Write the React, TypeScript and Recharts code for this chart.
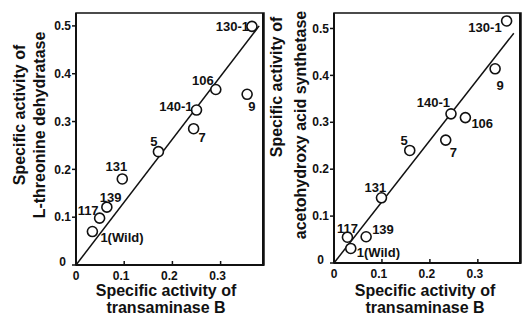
import { ScatterChart, Scatter, XAxis, YAxis, ReferenceLine, ReferenceArea, CartesianGrid } from "recharts";

// strain labels, same order in both panels
const STRAINS = ["1(Wild)", "117", "139", "131", "5", "7", "140-1", "106", "9", "130-1"];

// left panel: transaminase B vs L-threonine dehydratase
const TRANS_LEFT = [0.034, 0.049, 0.064, 0.096, 0.171, 0.244, 0.25, 0.29, 0.355, 0.365];
const DEHYDRATASE = [0.07, 0.098, 0.121, 0.18, 0.237, 0.285, 0.324, 0.367, 0.357, 0.499];

// right panel: transaminase B vs acetohydroxy acid synthetase
const TRANS_RIGHT = [0.035, 0.028, 0.067, 0.099, 0.158, 0.233, 0.244, 0.274, 0.336, 0.36];
const SYNTHETASE = [0.031, 0.055, 0.056, 0.139, 0.24, 0.262, 0.318, 0.31, 0.414, 0.516];

const X_TICKS = [0, 0.1, 0.2, 0.3];
const Y_TICKS = [0, 0.1, 0.2, 0.3, 0.4, 0.5];

// fitted lines (end points, data units)
const LINE_LEFT = [{ x: 0, y: 0 }, { x: 0.38, y: 0.5 }];
const LINE_RIGHT = [{ x: 0, y: 0 }, { x: 0.375, y: 0.49 }];

// label placement relative to each circle: dx, dy, anchor
const LABELS_LEFT: [number, number, string][] = [
  [8, 6, "start"], [-1, -8, "end"], [-7, -10, "start"], [-6, -12, "middle"], [-1, -10, "end"],
  [5, 9, "start"], [-4, -4, "end"], [-2, -9, "end"], [1, 12, "start"], [-3, 0, "end"],
];
const LABELS_RIGHT: [number, number, string][] = [
  [6, 4, "start"], [0, -9, "middle"], [6, -7, "start"], [-6, -10, "middle"], [-2, -10, "end"],
  [4, 12, "start"], [-1, -11, "end"], [6, 6, "start"], [5, 17, "middle"], [-5, 6, "end"],
];

const FONT = "'Liberation Sans', Arial, sans-serif";
const INK = "#111";

const fmt = (v: number) => (v === 0 ? "0" : v.toFixed(1));

const makeShape = (labels: [number, number, string][]) => (props: any) => {
  const { cx, cy, payload } = props;
  const [dx, dy, anchor] = labels[payload.i];
  return (
    <g>
      <circle cx={cx} cy={cy} r={5} fill="#fff" stroke={INK} strokeWidth={1.6} />
      <text x={cx + dx} y={cy + dy} dy="0.35em" textAnchor={anchor as any}
        fontFamily={FONT} fontWeight="bold" fontSize={13} fill={INK}>
        {payload.name}
      </text>
    </g>
  );
};

const XTick = (props: any) => {
  const { x, y, payload } = props;
  return (
    <g>
      {payload.value !== 0 && <line x1={x} x2={x} y1={y} y2={y - 4} stroke={INK} strokeWidth={1.5} />}
      <text x={x - (payload.value === 0 ? 0 : 3)} y={y + 15} textAnchor="middle"
        fontFamily={FONT} fontWeight="bold" fontSize={12} fill={INK}>
        {fmt(payload.value)}
      </text>
    </g>
  );
};

const YTick = (props: any) => {
  const { x, y, payload } = props;
  const zero = payload.value === 0;
  return (
    <text x={zero ? x - 5 : x} y={zero ? y - 3 : y} dy="0.35em" textAnchor="end"
      fontFamily={FONT} fontWeight="bold" fontSize={12} fill={INK}>
      {fmt(payload.value)}
    </text>
  );
};

const titleStyle = { fontFamily: FONT, fontWeight: "bold" as const, fontSize: 16, fill: INK };

interface PanelProps {
  left: number;
  width: number;
  yAxisWidth: number;
  margin: { top: number; right: number; bottom: number; left: number };
  xs: number[];
  ys: number[];
  labels: [number, number, string][];
  line: { x: number; y: number }[];
  xMax: number;
  yMax: number;
  xTitleX: number;
  yTitle: string;
  yTitle1: [number, number];
  yTitle2: [number, number];
}

function Panel(p: PanelProps) {
  const data = STRAINS.map((name, i) => ({ name, i, x: p.xs[i], y: p.ys[i] }));
  return (
    <div style={{ position: "absolute", left: p.left, top: 0, width: p.width, height: 316 }}>
      <ScatterChart width={p.width} height={316} margin={p.margin}>
        {/* right edge of the frame, placed from the plot offset */}
        <CartesianGrid horizontal={false} stroke={INK} strokeWidth={2} strokeOpacity={1}
          verticalCoordinatesGenerator={({ offset }: any) => [offset.left + offset.width - 1]} />
        <XAxis type="number" dataKey="x" domain={[0, p.xMax]} ticks={X_TICKS} height={30}
          axisLine={{ stroke: INK, strokeWidth: 2 }} tickLine={false} tickSize={0} tickMargin={0}
          tick={<XTick />} interval={0} allowDataOverflow
          label={{
            content: () => (
              <g>
                <text x={p.xTitleX} y={296} textAnchor="middle" {...titleStyle}>Specific activity of</text>
                <text x={p.xTitleX} y={313} textAnchor="middle" {...titleStyle}>transaminase B</text>
              </g>
            ),
          }}
        />
        <YAxis type="number" dataKey="y" domain={[0, p.yMax]} ticks={Y_TICKS} width={p.yAxisWidth}
          axisLine={{ stroke: INK, strokeWidth: 2 }} tickLine={{ stroke: INK, strokeWidth: 1.5 }}
          tickSize={4} tickMargin={1} tick={<YTick />} interval={0} allowDataOverflow
          label={{
            content: () => (
              <g>
                <text transform={`translate(${p.yTitle1[0]},${p.yTitle1[1]}) rotate(-90)`}
                  textAnchor="middle" dy="0.35em" {...titleStyle}>Specific activity of</text>
                <text transform={`translate(${p.yTitle2[0]},${p.yTitle2[1]}) rotate(-90)`}
                  textAnchor="middle" dy="0.35em" {...titleStyle}>{p.yTitle}</text>
              </g>
            ),
          }}
        />
        {/* plot frame */}
        <ReferenceArea x1={0} x2={p.xMax} y1={0} y2={p.yMax} fill="none" fillOpacity={0}
          stroke={INK} strokeWidth={1.5} ifOverflow="visible" />
        <ReferenceLine segment={p.line} stroke={INK} strokeWidth={1.5} ifOverflow="visible" />
        <Scatter data={data} shape={makeShape(p.labels)} isAnimationActive={false} />
      </ScatterChart>
    </div>
  );
}

export default function App() {
  return (
    <div style={{ position: "absolute", left: 0, top: 0, width: 523, height: 316, background: "#fff", overflow: "hidden" }}>
      <Panel left={266} width={257} yAxisWidth={68}
        margin={{ top: 13, right: 2, bottom: 23, left: 0 }}
        xs={TRANS_RIGHT} ys={SYNTHETASE} labels={LABELS_RIGHT} line={LINE_RIGHT}
        xMax={0.39} yMax={0.533} xTitleX={159}
        yTitle="acetohydroxy acid synthetase" yTitle1={[10, 87]} yTitle2={[34, 125]} />
      <Panel left={0} width={266} yAxisWidth={76}
        margin={{ top: 13, right: 2, bottom: 21, left: 0 }}
        xs={TRANS_LEFT} ys={DEHYDRATASE} labels={LABELS_LEFT} line={LINE_LEFT}
        xMax={0.39} yMax={0.527} xTitleX={166}
        yTitle="L-threonine dehydratase" yTitle1={[19, 115]} yTitle2={[39, 125]} />
    </div>
  );
}
